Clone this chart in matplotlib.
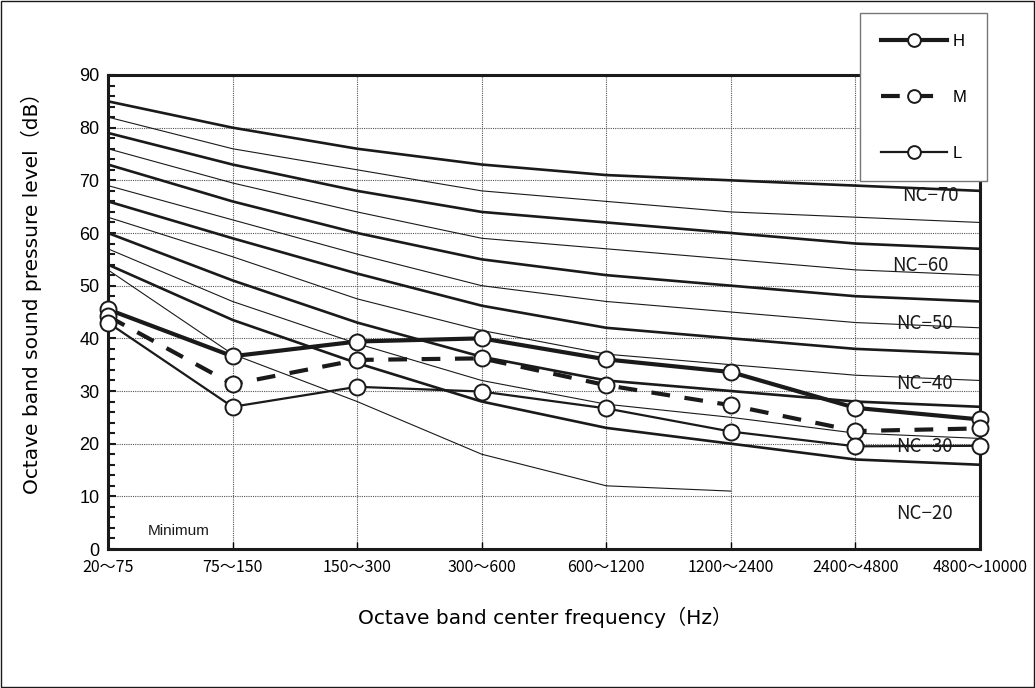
import numpy as np
import matplotlib
matplotlib.use('Agg')
import matplotlib.pyplot as plt
from matplotlib.patches import Rectangle

# octave bands (old band limits, Hz)
bands = ['20～75', '75～150', '150～300', '300～600',
         '600～1200', '1200～2400', '2400～4800', '4800～10000']

# NC curves (dB)
nc70 = [85, 80, 76, 73, 71, 70, 69, 68]
nc65 = [82, 76, 72, 68, 66, 64, 63, 62]
nc60 = [79, 73, 68, 64, 62, 60, 58, 57]
nc55 = [76, 69.5, 64, 59, 57, 55, 53, 52]
nc50 = [73, 66, 60, 55, 52, 50, 48, 47]
nc45 = [69, 62.5, 56, 50, 47, 45, 43, 42]
nc40 = [66, 59, 52.3, 46.2, 42, 40, 38, 37]
nc35 = [63, 55.5, 47.5, 41.5, 37, 35, 33, 32]
nc30 = [60, 51, 43, 36.5, 32, 30, 28, 27]
nc25 = [57, 47, 39, 32, 27.5, 25, 22, 21]
nc20 = [54, 43.5, 35.3, 28, 23, 20, 17, 16]
# minimum audible curve, only drawn up to 1200~2400
minimum = [53, 37, 28, 18, 12, 11]

# measured levels
level_h = [45.5, 36.6, 39.4, 40.0, 36.0, 33.6, 26.8, 24.6]
level_m = [44.2, 31.3, 35.9, 36.2, 31.1, 27.3, 22.4, 22.9]
level_l = [43.0, 27.0, 30.8, 29.9, 26.7, 22.3, 19.5, 19.6]

nc_names = ['NC−70', 'NC−60', 'NC−50', 'NC−40', 'NC−30', 'NC−20']

jp = ['Noto Sans CJK JP', 'DejaVu Sans']
wide = ['DejaVu Sans', 'Noto Sans CJK JP']
arial = ['Liberation Sans', 'DejaVu Sans']

fig = plt.figure(figsize=(10.35, 6.88), dpi=100)
ax = fig.add_axes([0.1043, 0.202, 0.8426, 0.689])

x = np.arange(len(bands))

thick = [nc70, nc60, nc50, nc40, nc30, nc20]
thin = [nc65, nc55, nc45, nc35, nc25]
for c in thick:
    ax.plot(x, c, color='#1a1a1a', lw=1.9, zorder=3)
for c in thin:
    ax.plot(x, c, color='#1a1a1a', lw=0.8, zorder=3)
ax.plot(x[:len(minimum)], minimum, color='#1a1a1a', lw=0.8, zorder=3)

mk = dict(marker='o', markersize=11.5, markerfacecolor='white',
          markeredgecolor='#1a1a1a', markeredgewidth=1.4, color='#1a1a1a',
          zorder=5, clip_on=False)
ax.plot(x, level_h, lw=3.0, label='H', **mk)
ax.plot(x, level_m, lw=3.0, ls=(0, (4.5, 3.5)), label='M', **mk)
ax.plot(x, level_l, lw=1.6, label='L', **mk)

# curve labels
label_pos = [(6.6, 67.2), (6.52, 53.9), (6.55, 42.8),
             (6.55, 31.4), (6.55, 19.5), (6.55, 6.8)]
for name, (lx, ly) in zip(nc_names, label_pos):
    ax.text(lx, ly, name, ha='center', va='center', fontsize=13.5,
            family=jp, color='#1a1a1a', zorder=4)
ax.text(0.32, 3.4, 'Minimum', ha='left', va='center', fontsize=11,
        family=arial, color='#1a1a1a')

ax.set_xlim(0, len(bands) - 1)
ax.set_ylim(0, 90)
ax.set_xticks(x)
ax.set_xticklabels(bands, family=jp, fontsize=11.5)
ax.set_yticks(np.arange(0, 91, 10))
ax.set_yticks(np.arange(0, 91, 2), minor=True)
for t in ax.get_yticklabels():
    t.set_family(arial)
    t.set_fontsize(13)
ax.tick_params(axis='y', which='both', direction='in', right=False,
               width=1.5, color='#1a1a1a', pad=6)
ax.tick_params(axis='y', which='major', length=6)
ax.tick_params(axis='y', which='minor', length=5)
ax.tick_params(axis='x', direction='in', length=5, width=1, pad=7)
ax.grid(True, which='major', ls=(0, (1, 1)), lw=0.8, color='#555555', zorder=1)
for s in ax.spines.values():
    s.set_linewidth(2.2)
    s.set_color('#1a1a1a')

ax.set_ylabel('Octave band sound pressure level（dB）', family=wide,
              fontsize=14.5)
ax.yaxis.set_label_coords(-0.076, 0.55)
fig.text(0.527, 0.103, 'Octave band center frequency（Hz）', family=wide,
         fontsize=14.5, ha='center', va='center')

leg = fig.legend(loc='upper right', bbox_to_anchor=(0.9536, 0.981),
                 frameon=True, fancybox=False, edgecolor='#777777',
                 framealpha=1.0, markerscale=0.8,
                 handlelength=4.0, labelspacing=2.45, borderpad=1.25,
                 handletextpad=0.3, borderaxespad=0.0,
                 prop={'family': arial, 'size': 12})
leg.get_frame().set_linewidth(1.0)
leg.set_zorder(10)

# outer frame around the picture
fig.patches.append(Rectangle((0.001, 0.001), 0.998, 0.998, transform=fig.transFigure,
                             fill=False, lw=1.0, ec='#1a1a1a'))

fig.savefig('out.png', dpi=100)
